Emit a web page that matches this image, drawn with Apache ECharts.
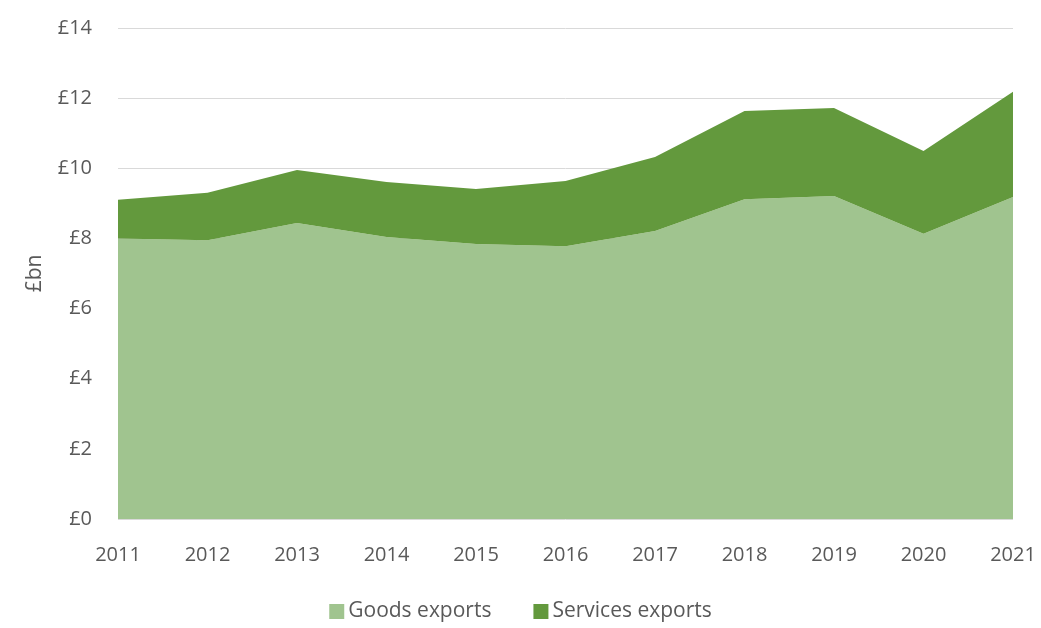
<!DOCTYPE html>
<html>
<head>
<meta charset="utf-8">
<script src="https://cdn.jsdelivr.net/npm/echarts@6/dist/echarts.min.js"></script>
<style>html,body{margin:0;padding:0;background:#fff}#c{width:1041px;height:628px}</style>
</head>
<body>
<div id="c"></div>
<script>
const years = ['2011','2012','2013','2014','2015','2016','2017','2018','2019','2020','2021'];
const goods = [8.0, 7.95, 8.44, 8.04, 7.84, 7.78, 8.21, 9.12, 9.21, 8.13, 9.18];
const services = [1.10, 1.35, 1.51, 1.57, 1.57, 1.86, 2.11, 2.51, 2.51, 2.36, 3.0];
const yTicks = [0, 2, 4, 6, 8, 10, 12, 14];

const font = '"Open Sans", sans-serif';
const chart = echarts.init(document.getElementById('c'));
chart.setOption({
  animation: false,
  grid: {left: 118, right: 28, top: 28, bottom: 109},
  legend: {
    top: 601, left: 'center', itemWidth: 15, itemHeight: 15, itemGap: 42, icon: 'rect', padding: 0,
    textStyle: {fontFamily: font, fontSize: 21, color: '#595959', padding: [0, 0, 0, -1]},
    data: ['Goods exports', 'Services exports']
  },
  xAxis: {
    type: 'category', data: years, boundaryGap: false,
    axisLine: {show: false}, axisTick: {show: false},
    axisLabel: {fontFamily: font, fontSize: 20, color: '#595959', margin: 26}
  },
  yAxis: {
    type: 'value', min: 0, max: 14, interval: 2,
    name: '£bn', nameLocation: 'middle', nameGap: 72, nameRotate: 90,
    nameTextStyle: {fontFamily: font, fontSize: 21, color: '#595959'},
    axisLine: {show: false}, axisTick: {show: false},
    splitLine: {lineStyle: {color: '#d9d9d9', width: 1}},
    axisLabel: {fontFamily: font, fontSize: 20, color: '#595959', margin: 26,
      formatter: v => yTicks.includes(v) ? '£' + v : ''}
  },
  series: [
    {name: 'Goods exports', type: 'line', stack: 't', data: goods, symbol: 'none',
     lineStyle: {width: 0}, itemStyle: {color: '#a0c48f'}, areaStyle: {color: '#a0c48f', opacity: 1}},
    {name: 'Services exports', type: 'line', stack: 't', data: services, symbol: 'none',
     lineStyle: {width: 0}, itemStyle: {color: '#63993d'}, areaStyle: {color: '#63993d', opacity: 1}}
  ]
});
</script>
</body>
</html>
